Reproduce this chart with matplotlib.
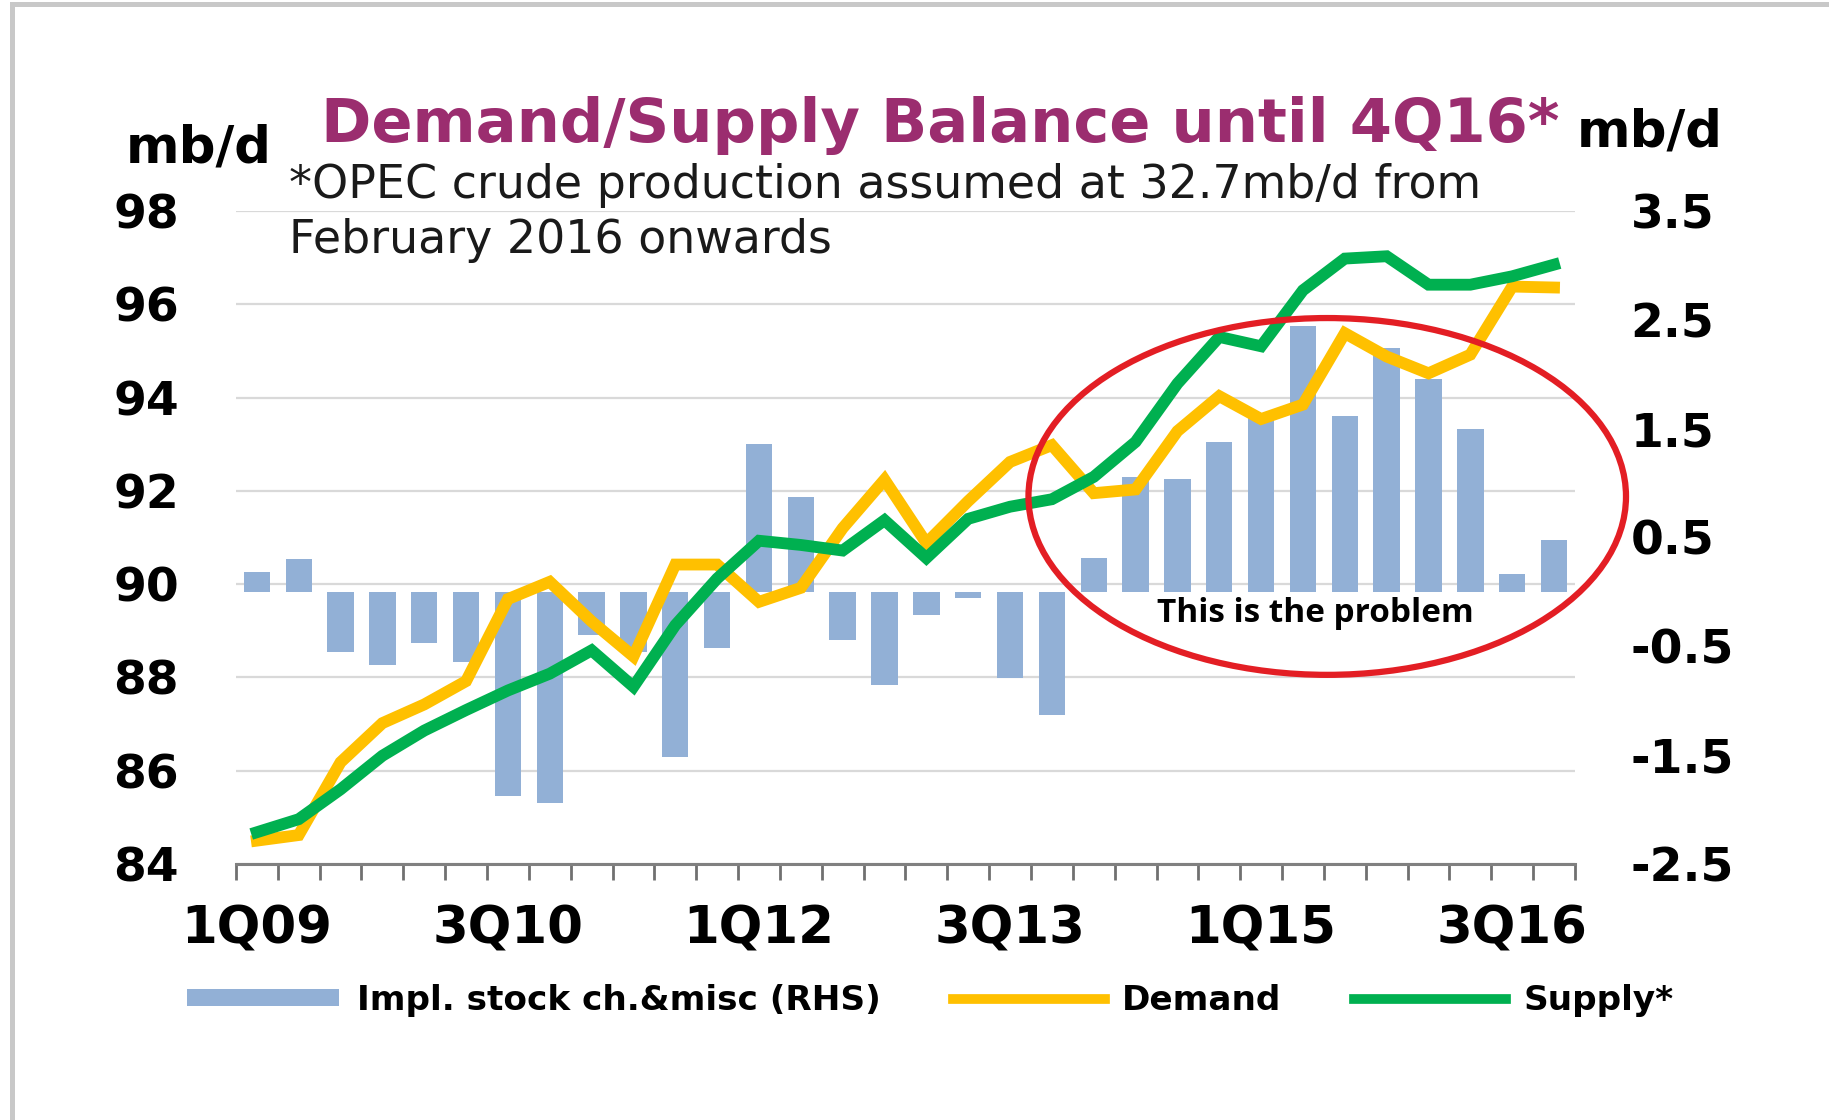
import matplotlib
matplotlib.use('Agg')
import matplotlib.pyplot as plt
import matplotlib.patches as patches
import numpy as np

# quarters 1Q09 .. 4Q16
quarters = [f'{q}Q{y:02d}' for y in range(9, 17) for q in range(1, 5)]

# implied stock change & misc (RHS, mb/d)
stock_ch = [0.18, 0.30, -0.55, -0.67, -0.47, -0.64, -1.88, -1.94,
            -0.40, -0.55, -1.52, -0.52, 1.36, 0.87, -0.44, -0.86,
            -0.21, -0.06, -0.79, -1.13, 0.31, 1.06, 1.04, 1.38,
            1.60, 2.44, 1.62, 2.24, 1.96, 1.50, 0.16, 0.48]

# demand (LHS, mb/d)
demand = [84.50, 84.62, 86.18, 87.02, 87.42, 87.92, 89.68, 90.05,
          89.20, 88.45, 90.42, 90.42, 89.62, 89.92, 91.20, 92.24,
          90.88, 91.78, 92.62, 92.98, 91.95, 92.03, 93.28, 94.03,
          93.54, 93.85, 95.38, 94.88, 94.52, 94.92, 96.38, 96.36]

# supply (LHS, mb/d)
supply = [84.68, 84.96, 85.60, 86.32, 86.86, 87.30, 87.72, 88.08,
          88.58, 87.80, 89.12, 90.12, 90.93, 90.84, 90.72, 91.37,
          90.56, 91.40, 91.66, 91.82, 92.30, 93.05, 94.30, 95.30,
          95.10, 96.30, 96.98, 97.03, 96.42, 96.42, 96.60, 96.85]

left_ticks = [84, 86, 88, 90, 92, 94, 96, 98]
right_ticks = [-2.5, -1.5, -0.5, 0.5, 1.5, 2.5, 3.5]
label_every = 6

bar_color = '#92B0D6'
demand_color = '#FFC000'
supply_color = '#00B050'
title_color = '#9B2D6F'

plt.rcParams['font.family'] = ['DejaVu Sans']

fig = plt.figure(figsize=(18.29, 11.2), dpi=100)
fig.patch.set_facecolor('white')

pos = [0.129, 0.2286, 0.7321, 0.583]
ax = fig.add_axes(pos)       # left axis + grid
axb = ax.twinx()             # bars, right axis
axl = ax.twinx()             # lines, share left scale
ax.set_zorder(1)
axb.set_zorder(2)
axl.set_zorder(3)
axb.patch.set_visible(False)
axl.patch.set_visible(False)

x = np.arange(len(quarters))

bars = axb.bar(x, stock_ch, width=0.63, color=bar_color, zorder=2,
               label='Impl. stock ch.&misc (RHS)')
ld, = axl.plot(x, demand, color=demand_color, lw=8.5, solid_joinstyle='miter',
               label='Demand')
ls, = axl.plot(x, supply, color=supply_color, lw=8.5, solid_joinstyle='miter',
               label='Supply*')

for a in (ax, axl):
    a.set_ylim(84, 98)
axb.set_ylim(-2.5, 3.5)
for a in (ax, axb, axl):
    a.set_xlim(-0.5, len(quarters) - 0.5)
    for s in a.spines.values():
        s.set_visible(False)

ax.spines['bottom'].set_visible(True)
ax.spines['bottom'].set_color('#808080')
ax.spines['bottom'].set_linewidth(2.2)

ax.set_yticks(left_ticks)
ax.grid(axis='y', color='#D9D9D9', lw=1.6)
ax.tick_params(axis='y', length=0, pad=41, labelsize=34)
for t in ax.get_yticklabels():
    t.set_fontweight('bold')

axb.set_yticks(right_ticks)
axb.set_yticklabels([f'{v:.1f}' for v in right_ticks])
axb.tick_params(axis='y', length=0, pad=40, labelsize=34)
for t in axb.get_yticklabels():
    t.set_fontweight('bold')

axl.set_yticks([])
axl.set_xticks([])
axb.set_xticks([])

ax.set_xticks(x[::label_every], [quarters[i] for i in x[::label_every]])
ax.set_xticks(np.arange(len(quarters) + 1) - 0.5, minor=True)
ax.tick_params(axis='x', which='major', length=0, pad=29, labelsize=37)
ax.tick_params(axis='x', which='minor', length=11.5, width=2, color='#707070')
for t in ax.get_xticklabels():
    t.set_fontweight('bold')

# annotation ellipse
ell = patches.Ellipse((25.58, 91.88), 14.28, 7.65, fill=False,
                      edgecolor='#E31E24', lw=4.5, clip_on=False, zorder=5)
axl.add_patch(ell)
axl.text(25.3, 89.36, 'This is the problem', ha='center', va='center',
         fontsize=24, fontweight='bold', family='Open Sans', zorder=6)

# titles and unit labels
fig.text(0.1754, 0.873, 'Demand/Supply Balance until 4Q16*', color=title_color,
         fontsize=43.7, fontweight='bold', ha='left', va='baseline')
fig.text(0.0689, 0.8545, 'mb/d', fontsize=37, fontweight='bold', ha='left', va='baseline')
fig.text(0.8623, 0.8688, 'mb/d', fontsize=37, fontweight='bold', ha='left', va='baseline')
fig.text(0.158, 0.8229, '*OPEC crude production assumed at 32.7mb/d from',
         fontsize=33, ha='left', va='baseline', color='#1a1a1a')
fig.text(0.158, 0.774, 'February 2016 onwards',
         fontsize=33, ha='left', va='baseline', color='#1a1a1a')

leg = fig.legend(handles=[bars, ld, ls], loc='center', bbox_to_anchor=(0.5086, 0.107),
                 ncol=3, frameon=False, handlelength=4.45, handleheight=0.4,
                 handletextpad=0.5, columnspacing=2.1,
                 prop={'size': 24.7, 'weight': 'bold'})
for h in leg.legend_handles[1:]:
    h.set_linewidth(7)

# light grey frame on top and left
fig.patches.append(patches.Rectangle((0.0066, -0.5), 1.0, 1.4964, fill=False,
                                     edgecolor='#C8C8C8', lw=3.6,
                                     transform=fig.transFigure, figure=fig))

fig.savefig('out.png', dpi=100, facecolor='white')
